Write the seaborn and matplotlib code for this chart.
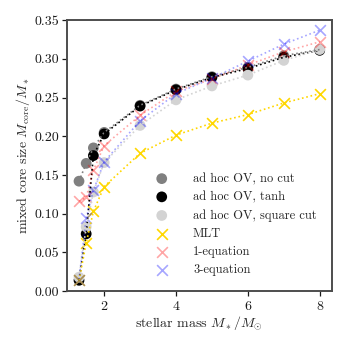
import matplotlib
matplotlib.use("Agg")
import matplotlib.pyplot as plt
import seaborn as sns

sns.set_theme(style="ticks")
plt.rcParams.update({
    "font.family": "serif",
    "font.serif": ["cmr10"],
    "mathtext.fontset": "cm",
    "axes.formatter.use_mathtext": True,
    "font.size": 10,
    "axes.labelsize": 10,
    "xtick.labelsize": 10,
    "ytick.labelsize": 10,
    "axes.edgecolor": "0.3",
    "axes.linewidth": 1.4,
    "xtick.major.size": 3.5,
    "ytick.major.size": 3.5,
    "xtick.major.width": 0.9,
    "ytick.major.width": 0.9,
    "xtick.color": "0.1",
    "ytick.color": "0.1",
    "xtick.major.pad": 3,
    "ytick.major.pad": 2,
})

# stellar masses (M_sun)
mass = [1.3, 1.5, 1.7, 2.0, 3.0, 4.0, 5.0, 6.0, 7.0, 8.0]

# mixed core size M_core / M_*
ov_nocut = [0.142, 0.165, 0.185, 0.205, 0.240, 0.261, 0.277, 0.289, 0.304, 0.312]
ov_tanh = [0.014, 0.074, 0.175, 0.203, 0.239, 0.260, 0.276, 0.2875, 0.302, 0.311]
ov_square = [0.018, 0.083, 0.128, 0.166, 0.214, 0.247, 0.265, 0.279, 0.298, 0.312]
mlt = [0.014, 0.062, 0.103, 0.135, 0.178, 0.2015, 0.217, 0.228, 0.243, 0.255]
eq1 = [0.116, 0.121, 0.156, 0.188, 0.227, 0.258, 0.274, 0.292, 0.309, 0.322]
eq3 = [0.015, 0.094, 0.130, 0.167, 0.220, 0.255, 0.275, 0.297, 0.319, 0.337]

series = [
    ("ad hoc OV, no cut", ov_nocut, "gray", "o", 1.0),
    ("ad hoc OV, tanh", ov_tanh, "black", "o", 1.0),
    ("ad hoc OV, square cut", ov_square, "lightgray", "o", 1.0),
    ("MLT", mlt, "gold", "x", 1.0),
    ("1-equation", eq1, "red", "x", 0.35),
    ("3-equation", eq3, "blue", "x", 0.35),
]

fig, ax = plt.subplots(figsize=(3.47, 3.47), dpi=100)
fig.subplots_adjust(left=0.193, right=0.956, top=0.942, bottom=0.161)

for label, vals, color, marker, alpha in series:
    sns.lineplot(x=mass, y=vals, color=color, alpha=alpha, linestyle=":",
                 linewidth=1.2, ax=ax, legend=False)
    if marker == "o":
        sns.scatterplot(x=mass, y=vals, color=color, marker="o", s=60,
                        edgecolor="none", alpha=alpha, ax=ax, label=label)
    else:
        sns.scatterplot(x=mass, y=vals, color=color, marker="x", s=60,
                        linewidth=1.2, alpha=alpha, ax=ax, label=label)

ax.set_ylim(0, 0.35)
ax.set_xticks([2, 4, 6, 8])
ax.set_yticks([0.0, 0.05, 0.10, 0.15, 0.20, 0.25, 0.30, 0.35])
ax.set_yticklabels(["0.00", "0.05", "0.10", "0.15", "0.20", "0.25", "0.30", "0.35"])
ax.set_xlabel(r"stellar mass $M_*/M_{\odot}$", labelpad=1)
ax.set_ylabel(r"mixed core size $M_{\rm core}/M_*$", labelpad=2)
ax.legend(loc="lower right", frameon=False, fontsize=9, handletextpad=1.5,
          labelspacing=0.48, borderaxespad=0.8)

fig.savefig("out.png", dpi=100)
